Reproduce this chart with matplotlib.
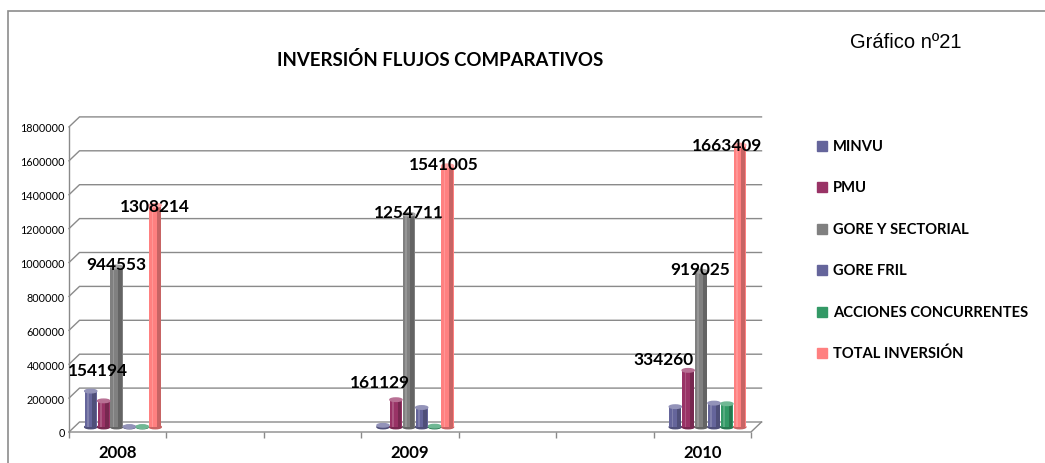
import matplotlib
matplotlib.use("Agg")
from matplotlib import pyplot as plt
from matplotlib.patches import Rectangle, Ellipse
import matplotlib.colors as mcolors

plt.rcParams["font.family"] = ["Lato", "DejaVu Sans"]

# datos
anios = ["2008", "2009", "2010"]
series = ["MINVU", "PMU", "GORE Y SECTORIAL", "GORE FRIL",
          "ACCIONES CONCURRENTES", "TOTAL INVERSIÓN"]
minvu = [212000, 10000, 120000]
pmu = [154194, 161129, 334260]
gore_sectorial = [944553, 1254711, 919025]
gore_fril = [2000, 115000, 141000]
acciones = [2000, 5000, 137000]
total = [1308214, 1541005, 1663409]
valores = [minvu, pmu, gore_sectorial, gore_fril, acciones, total]
y_ticks = list(range(0, 1800001, 200000))

colores = ["#65659b", "#993366", "#808080", "#65659b", "#339966", "#ff8080"]
# series con etiqueta y desplazamiento de la etiqueta (pixeles)
etiquetas = {1: [(-6, 31), (-16, 18), (-25, 11)],
             2: [(0, 3), (0, 2), (-1, 2)],
             5: [(0, -1), (-4, 2), (-13, 0)]}

W, H = 1045, 464
fig = plt.figure(figsize=(W / 100, H / 100), dpi=100)

def fx(x):
    return x / W

def fy(y):
    return 1 - y / H

# marco exterior
fig.add_artist(Rectangle((fx(8), fy(470)), fx(1100), fy(12) - fy(470),
                         transform=fig.transFigure, fill=False,
                         edgecolor="#8c8c8c", linewidth=1.2))

# ejes: 7 ranuras (2008, -, -, 2009, -, -, 2010)
slot = (751 - 69) / 7
dx = 10.5 / slot
px_val = 200000 / 33.9
dy = 10 * px_val
ymax = (433 - 118) * px_val
ax = fig.add_axes([fx(69), fy(433), (682 + 10.5) / W, (433 - 118) / H])
ax.set_xlim(0, 7 + dx)
ax.set_ylim(0, ymax)
for s in ax.spines.values():
    s.set_visible(False)
ax.patch.set_alpha(0)

gris = "#8a8a8a"
# pared y rejilla
for v in y_ticks:
    ax.plot([0, dx, 7 + dx], [v, v + dy, v + dy], color=gris, lw=1.0,
            solid_joinstyle="miter", clip_on=False, zorder=1)
ax.plot([0, 0], [0, y_ticks[-1]], color=gris, lw=1.0, clip_on=False)
# piso
ax.plot([0, 7, 7 + dx], [0, 0, dy], color=gris, lw=1.0, clip_on=False)

ax.set_yticks(y_ticks)
ax.set_yticklabels([str(v) for v in y_ticks], fontsize=7.8)
ax.tick_params(axis="y", length=0, pad=3)

centros = [0.5, 3.5, 6.5]
ax.set_xticks(centros)
ax.set_xticklabels(anios, fontsize=12, fontweight="bold")
ax.set_xticks(range(8), minor=True)
ax.tick_params(axis="x", which="major", length=0, pad=9)
ax.tick_params(axis="x", which="minor", length=4, color=gris, width=1.0)

# barras cilindricas
bw = 12.9 / slot
sx, sy = dx / 2, dy / 2
for i, vals in enumerate(valores):
    base = mcolors.to_rgb(colores[i])
    oscuro = tuple(c * 0.78 for c in base)
    claro = tuple(min(1, c + (1 - c) * 0.3) for c in base)
    for j, v in enumerate(vals):
        xc = centros[j] + sx + (i - 2.5) * bw
        ax.bar(xc, v, width=bw * 0.94, bottom=sy, color=base, zorder=3,
               linewidth=0)
        ax.bar(xc + bw * 0.28, v, width=bw * 0.3, bottom=sy, color=oscuro,
               zorder=3, linewidth=0)
        ax.bar(xc - bw * 0.22, v, width=bw * 0.12, bottom=sy, color=claro,
               zorder=3, linewidth=0, alpha=0.6)
        ax.add_patch(Ellipse((xc, sy), bw * 0.94, 3.5 * px_val,
                             color=oscuro, zorder=2.9))
        ax.add_patch(Ellipse((xc, v + sy), bw * 0.94, 3.5 * px_val,
                             color=claro, zorder=4))
        if i in etiquetas:
            ox, oy = etiquetas[i][j]
            ax.annotate(str(v), (xc, v + sy), xytext=(ox, oy),
                        textcoords="offset pixels", ha="center", va="center",
                        fontsize=12.4, fontweight="bold", zorder=6)

# leyenda
for i, nombre in enumerate(series):
    yc = 147 + i * 41.4
    fig.add_artist(Rectangle((fx(817), fy(yc + 5)), 10 / W, 10 / H,
                             transform=fig.transFigure, color=colores[i]))
    fig.text(fx(833), fy(yc), nombre, fontsize=10.6, fontweight="bold",
             va="center", ha="left")

fig.text(fx(440), fy(60), "INVERSIÓN FLUJOS COMPARATIVOS", fontsize=13.4,
         fontweight="bold", ha="center", va="center")
fig.text(fx(850), fy(42), "Gráfico nº21", fontsize=14.5,
         family="Liberation Sans", ha="left", va="center")

fig.savefig("out.png", dpi=100)
